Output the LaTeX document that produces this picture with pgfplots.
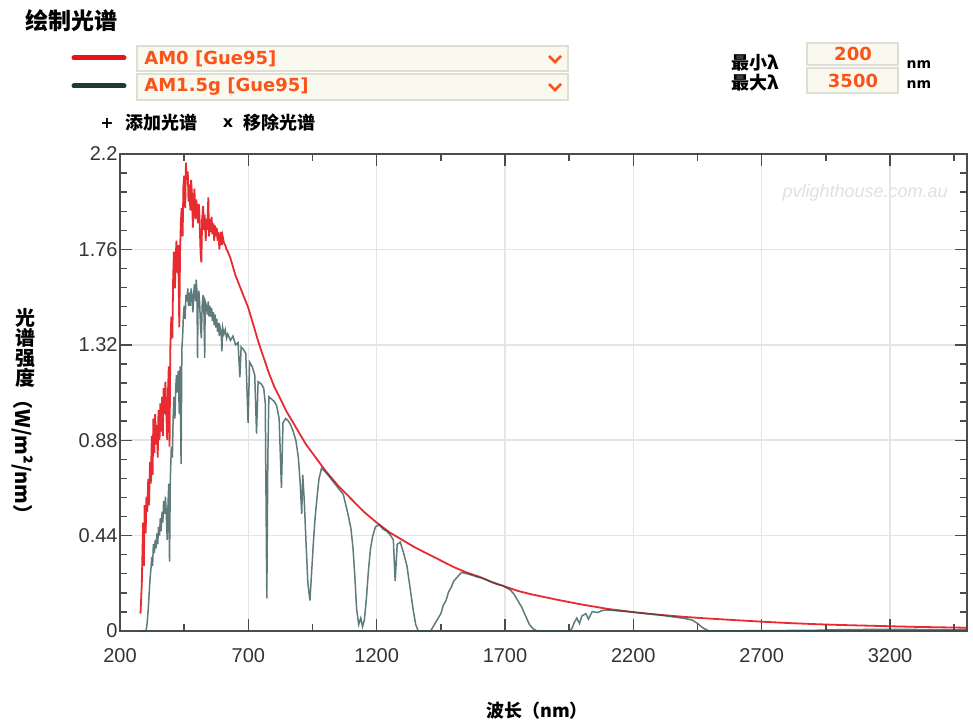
\documentclass[border=0pt]{standalone}
\usepackage{fontspec}
\setmainfont{Liberation Sans}
\newfontfamily\cjk{Noto Sans CJK SC}
\newfontfamily\ui{DejaVu Sans}
\usepackage{pgfplots}
\usepackage{pgfplotstable}
\pgfplotsset{compat=1.18}

\definecolor{amred}{RGB}{230,20,25}
\definecolor{amgray}{RGB}{40,78,78}
\definecolor{legdark}{RGB}{30,60,55}
\definecolor{uiorange}{RGB}{250,85,25}
\definecolor{boxbg}{RGB}{250,249,240}
\definecolor{boxline}{RGB}{222,222,210}

% AM0 spectrum, W/m^2/nm
\pgfplotstableread{
lam val
280 0.08
285 0.22
290 0.50
293 0.30
296 0.58
300 0.45
303 0.62
306 0.55
310 0.70
313 0.58
317 0.78
320 0.68
324 0.90
327 0.72
330 0.98
334 0.82
337 1.00
340 0.86
344 0.95
347 0.80
350 1.02
354 0.88
357 1.05
360 0.92
364 1.08
367 0.90
370 1.12
374 1.00
377 1.15
380 1.02
384 0.88
387 1.10
390 1.22
393 0.85
396 1.30
400 1.45
404 1.35
407 1.62
410 1.75
414 1.58
417 1.72
420 1.80
424 1.65
427 1.78
431 1.40
434 1.75
437 1.88
440 1.95
444 1.82
447 2.05
450 2.10
454 1.95
457 2.16
460 2.08
464 2.12
467 1.98
470 2.06
474 1.94
477 2.08
480 2.02
484 1.86
487 1.98
490 2.04
494 1.90
497 1.99
500 1.95
504 1.88
507 1.97
510 1.90
514 1.74
517 1.70
520 1.90
524 1.96
527 1.85
530 1.92
534 1.80
537 1.90
540 1.85
544 2.00
547 1.82
550 1.90
554 1.84
557 1.91
560 1.83
564 1.88
567 1.80
570 1.87
574 1.82
577 1.86
580 1.80
584 1.84
587 1.76
590 1.80
594 1.84
597 1.78
600 1.82
605 1.79
610 1.78
615 1.76
620 1.75
630 1.72
640 1.68
650 1.64
660 1.61
670 1.58
680 1.55
690 1.52
700 1.49
720 1.41
740 1.33
760 1.26
780 1.19
800 1.13
825 1.07
850 1.01
875 0.96
900 0.91
925 0.86
950 0.82
975 0.78
1000 0.74
1050 0.67
1100 0.61
1150 0.55
1200 0.50
1250 0.455
1300 0.42
1350 0.385
1400 0.355
1450 0.325
1500 0.295
1550 0.27
1600 0.25
1650 0.225
1700 0.205
1750 0.185
1800 0.17
1900 0.145
2000 0.122
2100 0.102
2200 0.087
2300 0.075
2400 0.065
2500 0.057
2600 0.050
2700 0.043
2800 0.037
2900 0.032
3000 0.028
3100 0.025
3200 0.022
3300 0.019
3400 0.017
3500 0.015
}\amzero

% AM1.5g spectrum, W/m^2/nm
\pgfplotstableread{
lam val
280 0
300 0
303 0.01
306 0.04
310 0.10
313 0.16
317 0.24
320 0.28
324 0.34
327 0.30
330 0.40
334 0.36
337 0.42
340 0.38
344 0.45
347 0.40
350 0.48
354 0.44
357 0.52
360 0.46
364 0.55
367 0.50
370 0.60
374 0.54
377 0.62
380 0.55
384 0.42
387 0.58
390 0.68
393 0.32
396 0.70
400 0.85
404 0.80
407 0.98
410 1.08
414 0.98
417 1.12
420 1.18
424 1.10
427 1.20
431 1.00
434 1.22
438 0.77
441 1.30
444 1.36
447 1.45
450 1.50
454 1.44
457 1.55
460 1.52
464 1.58
467 1.50
470 1.56
474 1.50
477 1.58
480 1.55
484 1.47
487 1.55
490 1.60
494 1.52
497 1.62
500 1.56
502 1.26
504 1.50
507 1.57
510 1.52
514 1.40
517 1.35
520 1.50
524 1.55
527 1.48
530 1.26
532 1.52
537 1.50
540 1.46
544 1.52
547 1.45
550 1.50
554 1.45
557 1.49
560 1.43
564 1.47
567 1.41
570 1.46
574 1.40
577 1.44
580 1.38
584 1.42
587 1.36
590 1.40
594 1.38
597 1.29
600 1.40
605 1.37
610 1.39
615 1.35
620 1.37
630 1.34
640 1.36
650 1.32
660 1.33
667 1.17
672 1.31
680 1.30
690 1.28
699 0.96
705 1.24
715 1.22
725 1.18
732 0.91
738 1.15
750 1.14
760 1.12
766 1.05
772 0.15
776 0.80
780 1.08
790 1.07
800 1.06
810 1.04
820 0.98
829 0.66
835 0.96
845 0.98
855 0.97
865 0.95
875 0.92
885 0.88
895 0.80
902 0.68
908 0.54
912 0.72
918 0.60
925 0.40
932 0.22
940 0.14
947 0.28
953 0.40
960 0.52
968 0.62
975 0.70
985 0.75
995 0.74
1010 0.72
1030 0.69
1050 0.66
1070 0.63
1080 0.58
1090 0.53
1100 0.47
1108 0.38
1115 0.25
1122 0.10
1130 0.03
1138 0.06
1145 0.02
1152 0.05
1160 0.15
1168 0.28
1176 0.38
1185 0.44
1195 0.48
1210 0.49
1225 0.47
1240 0.46
1255 0.44
1265 0.42
1272 0.23
1280 0.40
1292 0.41
1305 0.36
1318 0.30
1330 0.20
1342 0.10
1352 0.03
1362 0
1410 0
1420 0.02
1430 0.04
1440 0.06
1450 0.08
1460 0.12
1470 0.14
1480 0.18
1490 0.20
1500 0.23
1515 0.25
1530 0.27
1550 0.265
1570 0.258
1590 0.25
1610 0.245
1630 0.235
1650 0.225
1670 0.215
1690 0.21
1705 0.20
1720 0.19
1735 0.17
1750 0.14
1765 0.11
1780 0.07
1795 0.03
1810 0.01
1825 0
1950 0
1960 0.01
1970 0.04
1980 0.06
1990 0.035
2000 0.07
2015 0.08
2025 0.055
2040 0.09
2060 0.085
2080 0.095
2100 0.097
2150 0.092
2200 0.087
2250 0.08
2300 0.074
2350 0.066
2400 0.058
2430 0.05
2450 0.035
2470 0.015
2490 0.003
2500 0
2600 0.001
2900 0.003
3000 0.006
3200 0.008
3400 0.006
3500 0.005
}\amgtab

\begin{document}
\begin{tikzpicture}
\begin{scope}[x=0.5pt,y=-0.5pt]
  \path (0,0) rectangle (973,727);
  % header
  \node[anchor=west, inner sep=0] at (25,21) {\cjk\bfseries\fontsize{11.5pt}{12pt}\selectfont 绘制光谱};
  \draw[amred, line width=2.5pt, line cap=round] (74,58) -- (124,58);
  \draw[legdark, line width=2.5pt, line cap=round] (74,86) -- (124,86);
  \draw[boxline, fill=boxbg, line width=0.8pt] (137,46) rectangle (568,71);
  \draw[boxline, fill=boxbg, line width=0.8pt] (137,74) rectangle (568,100);
  \node[anchor=west, inner sep=0, text=uiorange] at (144,59) {\ui\bfseries\fontsize{9pt}{10pt}\selectfont AM0 [Gue95]};
  \node[anchor=west, inner sep=0, text=uiorange] at (144,87) {\ui\bfseries\fontsize{9pt}{10pt}\selectfont AM1.5g [Gue95]};
  \draw[uiorange, line width=1.3pt] (549,56) -- (555,62) -- (561,56);
  \draw[uiorange, line width=1.3pt] (549,84) -- (555,90) -- (561,84);
  \node[inner sep=0] at (107,123) {\ui\bfseries\fontsize{8pt}{9pt}\selectfont +};
  \node[anchor=west, inner sep=0] at (125,123) {\cjk\bfseries\fontsize{9pt}{10pt}\selectfont 添加光谱};
  \node[inner sep=0] at (228,123) {\ui\bfseries\fontsize{8pt}{9pt}\selectfont x};
  \node[anchor=west, inner sep=0] at (243,123) {\cjk\bfseries\fontsize{9pt}{10pt}\selectfont 移除光谱};
  % wavelength range
  \node[anchor=west, inner sep=0] at (731,63) {\cjk\bfseries\fontsize{9pt}{10pt}\selectfont 最小λ};
  \node[anchor=west, inner sep=0] at (731,83) {\cjk\bfseries\fontsize{9pt}{10pt}\selectfont 最大λ};
  \draw[boxline, fill=boxbg, line width=0.8pt] (807,43) rectangle (898,65);
  \draw[boxline, fill=boxbg, line width=0.8pt] (807,68) rectangle (898,93);
  \node[text=uiorange, inner sep=0] at (853,54) {\ui\bfseries\fontsize{9pt}{10pt}\selectfont 200};
  \node[text=uiorange, inner sep=0] at (853,81) {\ui\bfseries\fontsize{9pt}{10pt}\selectfont 3500};
  \node[inner sep=0] at (919,65) {\ui\bfseries\fontsize{7pt}{8pt}\selectfont nm};
  \node[inner sep=0] at (919,85) {\ui\bfseries\fontsize{7pt}{8pt}\selectfont nm};
  % axis titles
  \node[align=center, inner sep=0, font=\cjk\bfseries\fontsize{10pt}{10pt}\selectfont] at (25,348) {光\\谱\\强\\度};
  \node[rotate=-90, inner sep=0, font=\cjk\bfseries\fontsize{10pt}{10pt}\selectfont] at (23,457) {（W/m²/nm）};
  \node[inner sep=0] at (537,711) {\cjk\bfseries\fontsize{9pt}{10pt}\selectfont 波长（nm）};
  \node[anchor=east, inner sep=0, text=black!12] at (948,193) {\itshape\fontsize{9pt}{10pt}\selectfont pvlighthouse.com.au};
\end{scope}

\begin{axis}[
  at={(60pt,-315.5pt)}, anchor=south west,
  scale only axis, width=423.5pt, height=238.5pt,
  xmin=200, xmax=3500, ymin=0, ymax=2.2,
  xtick={200,700,...,3200},
  xticklabels={200,700,1200,1700,2200,2700,3200},
  minor xtick={450,950,...,3450},
  ytick={0,0.44,0.88,1.32,1.76,2.2},
  yticklabels={0,0.44,0.88,1.32,1.76,2.2},
  minor y tick num=4,
  tick align=inside,
  major tick length=6pt, minor tick length=3.5pt,
  tick style={black!70, line width=0.7pt},
  axis line style={black!70, line width=1.2pt},
  grid=major, major grid style={black!10, line width=0.8pt},
  ticklabel style={font=\fontsize{10pt}{11pt}\selectfont, text=black!80},
  yticklabel style={inner xsep=1pt},
  xticklabel style={yshift=-5pt},
]
\addplot[amred, line width=0.9pt, opacity=0.9] table[x=lam, y=val] {\amzero};
\addplot[amgray, line width=0.75pt, opacity=0.75] table[x=lam, y=val] {\amgtab};
\end{axis}
\end{tikzpicture}
\end{document}
